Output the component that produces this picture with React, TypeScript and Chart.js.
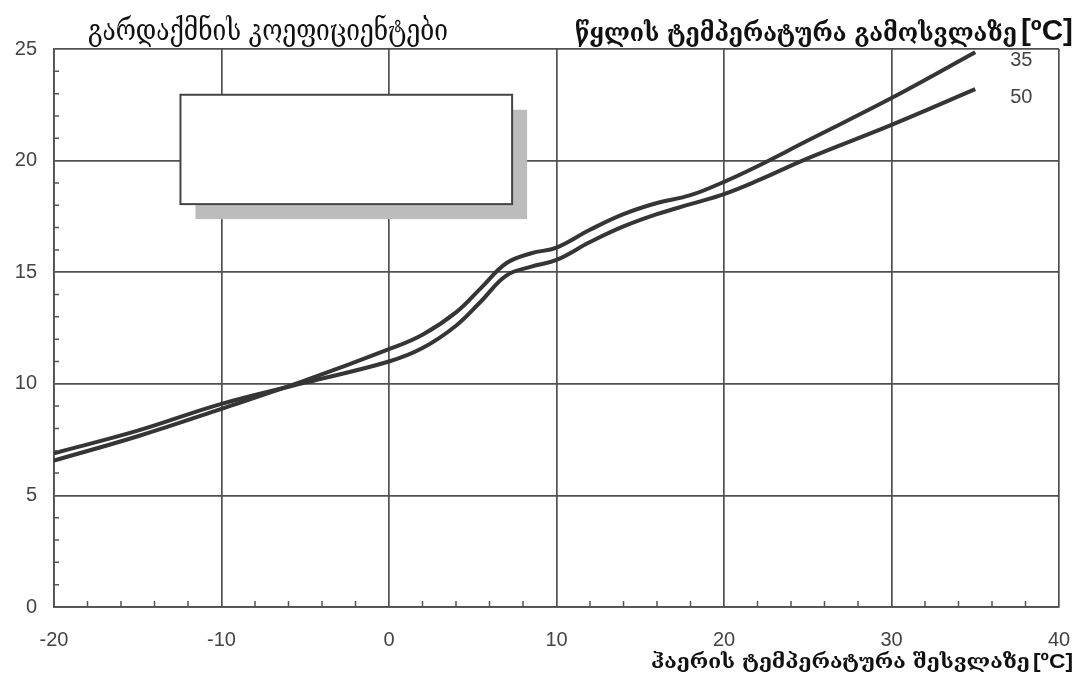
import { useEffect, useRef } from 'react';
import { Chart, registerables } from 'chart.js';

Chart.register(...registerables);

// Air temperature at inlet [°C]
const airTemps = [-20, -15, -10, -5, 0, 2, 4, 5.5, 7, 8.5, 10, 12, 14, 16, 18, 20, 22, 25, 30, 35];
// Conversion coefficients for water outlet temperature 35 °C
const water35 = [6.56, 7.65, 8.88, 10.15, 11.55, 12.2, 13.2, 14.3, 15.4, 15.85, 16.1, 16.9, 17.6, 18.1, 18.45, 19.05, 19.75, 20.9, 22.8, 24.85];
// Conversion coefficients for water outlet temperature 50 °C
const water50 = [6.89, 7.9, 9.1, 10.05, 11.0, 11.6, 12.6, 13.7, 14.85, 15.25, 15.55, 16.35, 17.05, 17.6, 18.05, 18.5, 19.1, 20.1, 21.6, 23.2];
const seriesLabels = ['35', '50'];

const xTicks = [-20, -10, 0, 10, 20, 30, 40];
const yTicks = [0, 5, 10, 15, 20, 25];

const titleLeft = 'გარდაქმნის კოეფიციენტები';
const titleRight = 'წყლის ტემპერატურა გამოსვლაზე';
const titleBottom = 'ჰაერის ტემპერატურა შესვლაზე';
const unitText = '[ºC]';

const GEO_FONT = '"DejaVu Serif", "DejaVu Sans", serif';
const SANS = '"Liberation Sans", Arial, sans-serif';

function drawFit(ctx: CanvasRenderingContext2D, text: string, family: string, weight: string, x0: number, x1: number, baseline: number, color: string, stretchY: number) {
  ctx.save();
  ctx.font = `${weight} 20px ${family}`;
  const w = ctx.measureText(text).width;
  const size = 20 * (x1 - x0) / w;
  ctx.font = `${weight} ${size}px ${family}`;
  ctx.fillStyle = color;
  ctx.textAlign = 'left';
  ctx.textBaseline = 'alphabetic';
  ctx.translate(x0, baseline);
  ctx.scale(1, stretchY);
  ctx.fillText(text, 0, 0);
  ctx.restore();
}

const decorPlugin = {
  id: 'decor',
  beforeDatasetsDraw(chart: any) {
    const ctx = chart.ctx as CanvasRenderingContext2D;
    const xs = chart.scales.x;
    const ys = chart.scales.y;
    const l = xs.getPixelForValue(-12.45);
    const r = xs.getPixelForValue(7.35);
    const t = ys.getPixelForValue(22.95);
    const b = ys.getPixelForValue(18.05);
    ctx.save();
    ctx.fillStyle = '#bcbcbc';
    ctx.fillRect(l + 15, t + 15, r - l, b - t);
    ctx.fillStyle = '#ffffff';
    ctx.fillRect(l, t, r - l, b - t);
    ctx.strokeStyle = '#444444';
    ctx.lineWidth = 2;
    ctx.strokeRect(l, t, r - l, b - t);
    ctx.restore();
  },
  afterDraw(chart: any) {
    const ctx = chart.ctx as CanvasRenderingContext2D;
    const xs = chart.scales.x;
    const ys = chart.scales.y;
    const area = chart.chartArea;
    ctx.save();
    // minor ticks
    ctx.strokeStyle = '#555555';
    ctx.lineWidth = 1.5;
    ctx.beginPath();
    for (let v = -20; v <= 40; v += 2) {
      if (v % 10 === 0) continue;
      const px = xs.getPixelForValue(v);
      ctx.moveTo(px, area.bottom);
      ctx.lineTo(px, area.bottom - 6);
    }
    for (let v = 0; v <= 25; v += 1) {
      if (v % 5 === 0) continue;
      const py = ys.getPixelForValue(v);
      ctx.moveTo(area.left, py);
      ctx.lineTo(area.left + 5, py);
    }
    ctx.stroke();

    // curve end labels
    ctx.font = `20px ${SANS}`;
    ctx.fillStyle = '#444444';
    ctx.textAlign = 'left';
    ctx.textBaseline = 'middle';
    chart.data.datasets.forEach((ds: any, i: number) => {
      const meta = chart.getDatasetMeta(i);
      const last = meta.data[meta.data.length - 1];
      ctx.fillText(ds.label, last.x + 35, last.y + 8);
    });
    ctx.restore();

    // titles
    drawFit(ctx, titleLeft, GEO_FONT, 'normal', 88, 448, 40, '#111111', 1.25);
    drawFit(ctx, titleRight, GEO_FONT, 'bold', 575, 1017, 41, '#111111', 1.1);
    drawFit(ctx, unitText, SANS, 'bold', 1021, 1073, 40, '#111111', 1.0);
    drawFit(ctx, titleBottom, GEO_FONT, 'bold', 651, 1030, 668, '#111111', 0.95);
    drawFit(ctx, unitText, SANS, 'bold', 1033, 1073, 668, '#111111', 0.9);
  },
};

export default function App() {
  const ref = useRef<HTMLCanvasElement | null>(null);
  useEffect(() => {
    document.body.style.margin = '0';
    const canvas = ref.current!;
    const mk = (vals: number[]) => airTemps.map((x, i) => ({ x, y: vals[i] }));
    const chart = new Chart(canvas, {
      type: 'line',
      data: {
        datasets: [
          { label: seriesLabels[0], data: mk(water35), borderColor: '#353535', borderWidth: 4, pointRadius: 0, tension: 0.4, fill: false },
          { label: seriesLabels[1], data: mk(water50), borderColor: '#353535', borderWidth: 4, pointRadius: 0, tension: 0.4, fill: false },
        ],
      },
      options: {
        responsive: false,
        animation: false,
        layout: { padding: { top: 49, right: 18, left: 0, bottom: 0 } },
        plugins: { legend: { display: false }, tooltip: { enabled: false }, title: { display: false } },
        scales: {
          x: {
            type: 'linear',
            min: -20,
            max: 40,
            afterBuildTicks: (s: any) => { s.ticks = xTicks.map((v) => ({ value: v })); },
            afterFit: (s: any) => { s.height = 77; s.paddingLeft = 0; s.paddingRight = 0; },
            grid: { color: '#505050', lineWidth: 1.7, drawTicks: false },
            border: { color: '#505050', width: 1.7 },
            ticks: { padding: 21, color: '#444444', font: { family: SANS, size: 20 } },
          },
          y: {
            type: 'linear',
            min: 0,
            max: 25,
            afterBuildTicks: (s: any) => { s.ticks = yTicks.map((v) => ({ value: v })); },
            afterFit: (s: any) => { s.width = 54; s.paddingTop = 0; s.paddingBottom = 0; },
            grid: { color: '#505050', lineWidth: 1.7, drawTicks: false },
            border: { color: '#505050', width: 1.7 },
            ticks: { padding: 17, color: '#444444', font: { family: SANS, size: 20 } },
          },
        },
      },
      plugins: [decorPlugin],
    } as any);
    return () => chart.destroy();
  }, []);
  return (
    <div style={{ position: 'fixed', left: 0, top: 0, width: 1077, height: 684, background: '#ffffff' }}>
      <canvas ref={ref} width={1077} height={684} />
    </div>
  );
}
